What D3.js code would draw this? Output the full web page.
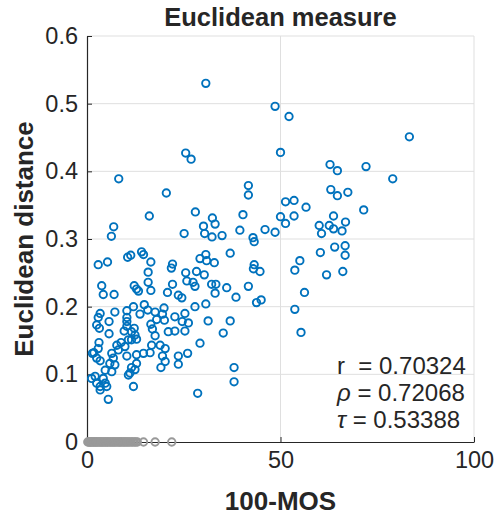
<!DOCTYPE html>
<html>
<head>
<meta charset="utf-8">
<script src="https://cdn.jsdelivr.net/npm/d3@7"></script>
<style>
  body { margin: 0; background: #fff; }
  svg text { font-family: "Liberation Sans", Arial, Helvetica, sans-serif; fill: #262626; }
</style>
</head>
<body>
<div id="chart"></div>
<script>
// data: x = 100-MOS, y = Euclidean distance
var blueX = [30.7, 48.6, 52.2, 25.5, 26.9, 50.0, 8.2, 20.5, 41.7, 41.7, 51.3, 16.1, 28.0, 40.3, 32.4, 33.1, 30.1, 50.0, 51.3, 6.9,
             6.3, 25.1, 30.4, 32.3, 34.9, 39.5, 42.9, 46.0, 48.6,
             83.3, 62.8, 64.7, 72.1, 79.0, 63.0, 64.7, 67.4, 53.5, 56.6, 71.5, 53.5, 63.7, 60.0, 62.6, 63.7, 66.8, 65.9, 60.6,
             60.3, 64.0, 66.7, 66.7, 66.1, 61.9, 55.0, 53.7, 56.2, 53.7, 55.3,
             43.2, 29.2, 30.7, 30.9, 32.9, 37.0, 43.2, 43.0, 44.7, 25.5, 28.3, 30.3, 27.4, 25.8, 27.9, 32.2, 33.3, 33.1, 36.1, 41.7,
             38.5, 43.8, 45.0, 27.9, 30.7, 26.2, 31.3, 37.0, 35.2,
             29.2, 26.0, 38.0, 38.0, 28.6,
             2.9, 5.3, 10.5, 11.3, 14.1, 14.6, 16.5, 15.8, 15.8, 12.2, 12.8, 13.3, 16.5, 3.8, 4.2, 7.0, 22.1, 21.8, 22.1, 20.8,
             23.6, 24.5,
             3.4, 2.9, 7.2, 10.3, 12.0, 14.8, 15.7, 13.7, 10.3, 5.7, 2.5, 10.3, 10.3, 17.6, 18.0, 19.9, 19.5, 20.0, 16.5, 16.9,
             12.2, 9.6, 5.7, 22.7, 25.3, 24.6, 22.7, 25.3, 21.0,
             3.1, 2.9, 1.4, 2.5, 3.4, 7.7, 8.8, 9.8, 8.1, 6.4, 6.8, 5.9, 7.2, 6.4, 4.7, 10.7, 11.5, 12.8, 10.3, 12.8,
             14.6, 16.3, 16.7, 18.9, 20.2, 19.5, 20.2, 19.1, 12.8, 11.5, 12.4, 10.7, 11.1, 23.6, 23.6, 2.1, 1.2, 2.5, 3.4, 3.4,
             4.7, 5.1, 4.2, 12.0, 5.5, 11.5, 12.4, 17.6, 3.2, 1.8];
var blueY = [0.530, 0.496, 0.481, 0.427, 0.418, 0.428, 0.389, 0.368, 0.379, 0.365, 0.355, 0.334, 0.340, 0.336, 0.331, 0.322, 0.319, 0.333, 0.323, 0.318,
             0.304, 0.308, 0.308, 0.303, 0.305, 0.313, 0.302, 0.314, 0.310,
             0.451, 0.410, 0.401, 0.407, 0.389, 0.373, 0.364, 0.369, 0.357, 0.347, 0.343, 0.334, 0.334, 0.320, 0.320, 0.315, 0.325, 0.312, 0.308,
             0.280, 0.288, 0.290, 0.276, 0.252, 0.247, 0.268, 0.254, 0.221, 0.196, 0.162,
             0.296, 0.271, 0.277, 0.268, 0.265, 0.279, 0.262, 0.256, 0.252, 0.250, 0.252, 0.247, 0.236, 0.238, 0.230, 0.233, 0.233, 0.220, 0.228, 0.230,
             0.214, 0.206, 0.210, 0.200, 0.204, 0.176, 0.179, 0.179, 0.161,
             0.146, 0.131, 0.110, 0.089, 0.072,
             0.262, 0.266, 0.273, 0.276, 0.281, 0.277, 0.266, 0.251, 0.236, 0.231, 0.226, 0.223, 0.224, 0.231, 0.218, 0.218, 0.263, 0.257, 0.233, 0.221,
             0.217, 0.213,
             0.190, 0.184, 0.192, 0.194, 0.200, 0.203, 0.195, 0.189, 0.184, 0.178, 0.173, 0.178, 0.171, 0.192, 0.181, 0.198, 0.189, 0.180, 0.174, 0.167,
             0.168, 0.164, 0.160, 0.185, 0.190, 0.178, 0.164, 0.164, 0.163,
             0.147, 0.138, 0.131, 0.124, 0.120, 0.143, 0.147, 0.141, 0.136, 0.131, 0.124, 0.116, 0.114, 0.104, 0.106, 0.151, 0.151, 0.152, 0.127, 0.129,
             0.131, 0.132, 0.143, 0.143, 0.138, 0.127, 0.119, 0.110, 0.116, 0.110, 0.107, 0.099, 0.102, 0.127, 0.115, 0.097, 0.094, 0.087, 0.082, 0.077,
             0.087, 0.082, 0.094, 0.082, 0.063, 0.163, 0.158, 0.157, 0.168, 0.132];
// images with zero distance (grey)
var greyX = [0.2, 0.5, 0.7, 0.9, 1.1, 1.4, 1.6, 1.9, 2.1, 2.4, 2.6, 2.9, 3.2, 3.5, 3.7, 4.0, 4.3, 4.6, 4.9, 5.2,
             5.4, 5.8, 6.1, 6.4, 6.7, 7.0, 7.3, 7.6, 8.0, 8.3, 8.6, 8.9, 9.3, 9.6, 9.9, 10.3, 10.6, 11.0, 11.4, 11.8,
             12.2, 12.6, 13.0, 14.6, 17.6, 21.9];
var greyY = greyX.map(function() { return 0; });

var xTicks = [0, 50, 100];
var yTicks = [0, 0.1, 0.2, 0.3, 0.4, 0.5, 0.6];
var statLabels = ["r", "\u03C1", "\u03C4"];
var statValues = ["0.70324", "0.72068", "0.53388"];
var title = "Euclidean measure";
var xLabel = "100-MOS";
var yLabel = "Euclidean distance";

// size and colours
var width = 495, height = 518;
var margin = {top: 36, right: 21, bottom: 76, left: 87};
var blue = "#0072BD", grey = "#999999", axisColor = "#262626", gridColor = "#dfdfdf";

var svg = d3.select("#chart").append("svg")
            .attr("width", width)
            .attr("height", height);

var xScale = d3.scaleLinear().domain([0, 100]).range([margin.left, width - margin.right]);
var yScale = d3.scaleLinear().domain([0, 0.6]).range([height - margin.bottom, margin.top]);

// grid
svg.append("g").selectAll("line")
   .data(yTicks.slice(1))
   .enter().append("line")
   .attr("x1", xScale(0)).attr("x2", xScale(100))
   .attr("y1", function(d) { return yScale(d); })
   .attr("y2", function(d) { return yScale(d); })
   .attr("stroke", gridColor).attr("stroke-width", 1);
svg.append("g").selectAll("line")
   .data(xTicks.slice(1))
   .enter().append("line")
   .attr("x1", function(d) { return xScale(d); })
   .attr("x2", function(d) { return xScale(d); })
   .attr("y1", yScale(0)).attr("y2", yScale(0.6))
   .attr("stroke", gridColor).attr("stroke-width", 1);

// axes, ticks pointing inward
var xAxis = d3.axisBottom(xScale).tickValues(xTicks).tickSizeInner(-5).tickSizeOuter(0).tickPadding(9)
              .tickFormat(d3.format("d"));
var yAxis = d3.axisLeft(yScale).tickValues(yTicks).tickSizeInner(-5).tickSizeOuter(0).tickPadding(9)
              .tickFormat(function(d) { return d === 0 ? "0" : d3.format(".1f")(d); });
var gx = svg.append("g")
   .attr("transform", "translate(0," + yScale(0) + ")")
   .call(xAxis);
var gy = svg.append("g")
   .attr("transform", "translate(" + xScale(0) + ",0)")
   .call(yAxis);
[gx, gy].forEach(function(g) {
  g.select(".domain").attr("stroke", axisColor).attr("stroke-width", 1.2);
  g.selectAll(".tick line").attr("stroke", axisColor);
  g.selectAll(".tick text").attr("font-size", 23.5).attr("fill", axisColor)
   .style("font-family", "'Liberation Sans', Arial, sans-serif");
});

// blue points
var pts = blueX.map(function(x, i) { return {x: x, y: blueY[i]}; });
svg.append("g").selectAll("circle")
   .data(pts)
   .enter().append("circle")
   .attr("cx", function(d) { return xScale(d.x); })
   .attr("cy", function(d) { return yScale(d.y); })
   .attr("r", 3.7)
   .attr("fill", "none")
   .attr("stroke", blue)
   .attr("stroke-width", 1.9);

// grey points at zero
var gpts = greyX.map(function(x, i) { return {x: x, y: greyY[i]}; });
svg.append("g").selectAll("circle")
   .data(gpts)
   .enter().append("circle")
   .attr("cx", function(d) { return xScale(d.x); })
   .attr("cy", function(d) { return yScale(d.y); })
   .attr("r", 3.7)
   .attr("fill", "none")
   .attr("stroke", grey)
   .attr("stroke-width", 1.9);

// title and labels
svg.append("text")
   .text(title)
   .attr("x", (xScale(0) + xScale(100)) / 2)
   .attr("y", 26)
   .attr("text-anchor", "middle")
   .attr("font-size", 25.5)
   .attr("font-weight", "bold");
svg.append("text")
   .text(xLabel)
   .attr("x", (xScale(0) + xScale(100)) / 2)
   .attr("y", 510)
   .attr("text-anchor", "middle")
   .attr("font-size", 26)
   .attr("font-weight", "bold");
svg.append("text")
   .text(yLabel)
   .attr("transform", "translate(33," + (yScale(0) + yScale(0.6)) / 2 + ") rotate(-90)")
   .attr("text-anchor", "middle")
   .attr("font-size", 26)
   .attr("font-weight", "bold");

// correlation text
var stats = svg.append("g");
statLabels.forEach(function(lab, i) {
  var t = stats.append("text")
               .attr("x", 337)
               .attr("y", 374 + i * 27)
               .attr("font-size", 24);
  t.append("tspan")
   .attr("font-style", i === 0 ? "normal" : "italic")
   .text(lab);
  t.append("tspan")
   .attr("xml:space", "preserve")
   .text((i === 0 ? "  = " : " = ") + statValues[i]);
});
</script>
</body>
</html>
